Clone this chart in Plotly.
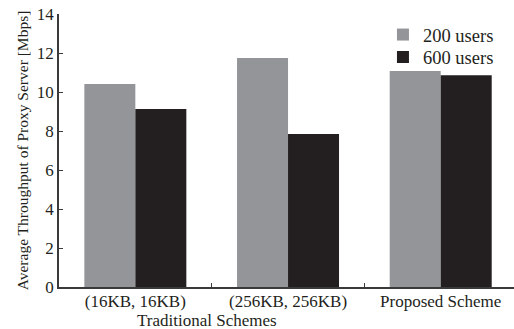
import plotly.graph_objects as go

categories = ["(16KB, 16KB)", "(256KB, 256KB)", "Proposed Scheme"]
users_200 = [10.41, 11.75, 11.08]
users_600 = [9.13, 7.85, 10.86]
series_names = ["200 users", "600 users"]
y_ticks = [0, 2, 4, 6, 8, 10, 12, 14]

GRAY = "#939598"
BLACK = "#231f20"
AX = "#3a3a3a"
FONT = "Liberation Serif"
FS = 17

fig = go.Figure()
fig.add_trace(go.Bar(x=categories, y=users_200, name=series_names[0], legend="legend",
                     marker=dict(color=GRAY, line=dict(width=0))))
fig.add_trace(go.Bar(x=categories, y=users_600, name=series_names[1], legend="legend2",
                     marker=dict(color=BLACK, line=dict(width=0))))

xr = [-0.5, 2.48]
top_ticks = [-0.5 + k / 3 for k in range(1, 9)]

leg_common = dict(xanchor="left", yanchor="middle", bgcolor="rgba(0,0,0,0)",
                  borderwidth=0, font=dict(family=FONT, size=18.5))

fig.update_layout(
    width=514, height=329,
    margin=dict(l=59, r=0, t=14, b=42),
    paper_bgcolor="white", plot_bgcolor="white",
    barmode="group", bargap=0.332, bargroupgap=0,
    font=dict(family=FONT, color="#231f20", size=FS),
    showlegend=True,
    legend=dict(x=0.712, y=0.923, **leg_common),
    legend2=dict(x=0.712, y=0.841, **leg_common),
    xaxis=dict(type="category", range=xr, showline=True, linecolor=AX, linewidth=1.5,
               ticks="inside", tickson="boundaries", ticklen=4, tickcolor=AX,
               showgrid=False, zeroline=False, tickfont=dict(size=FS), automargin=False,
               ticklabelstandoff=-2),
    xaxis2=dict(overlaying="x", side="top", anchor="y", range=xr,
                tickvals=top_ticks, ticks="inside", ticklen=4, tickcolor=AX,
                showticklabels=False, showline=True, linecolor="#555555", linewidth=2,
                showgrid=False, zeroline=False, automargin=False),
    yaxis=dict(range=[0, 14], tickvals=y_ticks, showline=True, linecolor=AX, linewidth=1.5,
               ticks="inside", ticklen=4, tickcolor=AX, showgrid=False, zeroline=False,
               tickfont=dict(size=FS), automargin=False,
               title=dict(text="Average Throughput of Proxy Server [Mbps]",
                          font=dict(size=15.5), standoff=4)),
    yaxis2=dict(overlaying="y", side="right", anchor="x", range=[0, 14], tickvals=y_ticks,
                ticks="inside", ticklen=3, tickcolor=AX, showticklabels=False,
                showline=False, showgrid=False, zeroline=False, automargin=False),
)

fig.add_annotation(x=0.47, y=0, xref="x", yref="paper", yshift=-33,
                   text="Traditional Schemes", showarrow=False,
                   font=dict(family=FONT, size=FS), xanchor="center", yanchor="middle")

fig.write_html("out.html", config={"displayModeBar": False},
               post_script="document.body.style.margin='0';")
